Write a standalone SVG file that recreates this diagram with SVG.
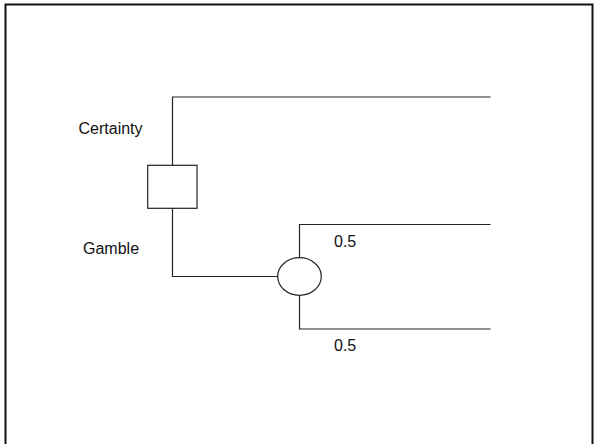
<svg xmlns="http://www.w3.org/2000/svg" width="594" height="444" viewBox="0 0 594 444">
  <style>
    .frame { fill: none; stroke: #111; stroke-width: 2; }
    .edge { fill: none; stroke: #222; stroke-width: 1.2; }
    .node { fill: #fff; stroke: #222; stroke-width: 1.2; }
    .label { font-family: "Liberation Sans", Arial, sans-serif; font-size: 16px; fill: #111; }
  </style>
  <rect width="594" height="444" fill="#fff"/>
  <rect class="frame" x="5.5" y="4.5" width="587" height="460"/>

  <g id="connectors">
    <path class="edge" d="M172.5 165 V97 H490.5"/>
    <path class="edge" d="M172.5 208.5 V276.5 H278"/>
    <path class="edge" d="M299.5 257.7 V224.5 H490.5"/>
    <path class="edge" d="M299.5 295.3 V329 H490.5"/>
  </g>

  <g id="decision">
    <rect class="node" x="147.7" y="165.3" width="49.3" height="43"/>
  </g>
  <g id="chance">
    <ellipse class="node" cx="299.5" cy="276.5" rx="21.8" ry="18.8"/>
  </g>

  <g id="label-certainty">
    <text class="label" x="78.5" y="133.5">Certainty</text>
  </g>
  <g id="label-gamble">
    <text class="label" x="83" y="253.5">Gamble</text>
  </g>
  <g id="label-p-upper">
    <text class="label" x="334" y="246.5">0.5</text>
  </g>
  <g id="label-p-lower">
    <text class="label" x="334" y="350.5">0.5</text>
  </g>
</svg>
